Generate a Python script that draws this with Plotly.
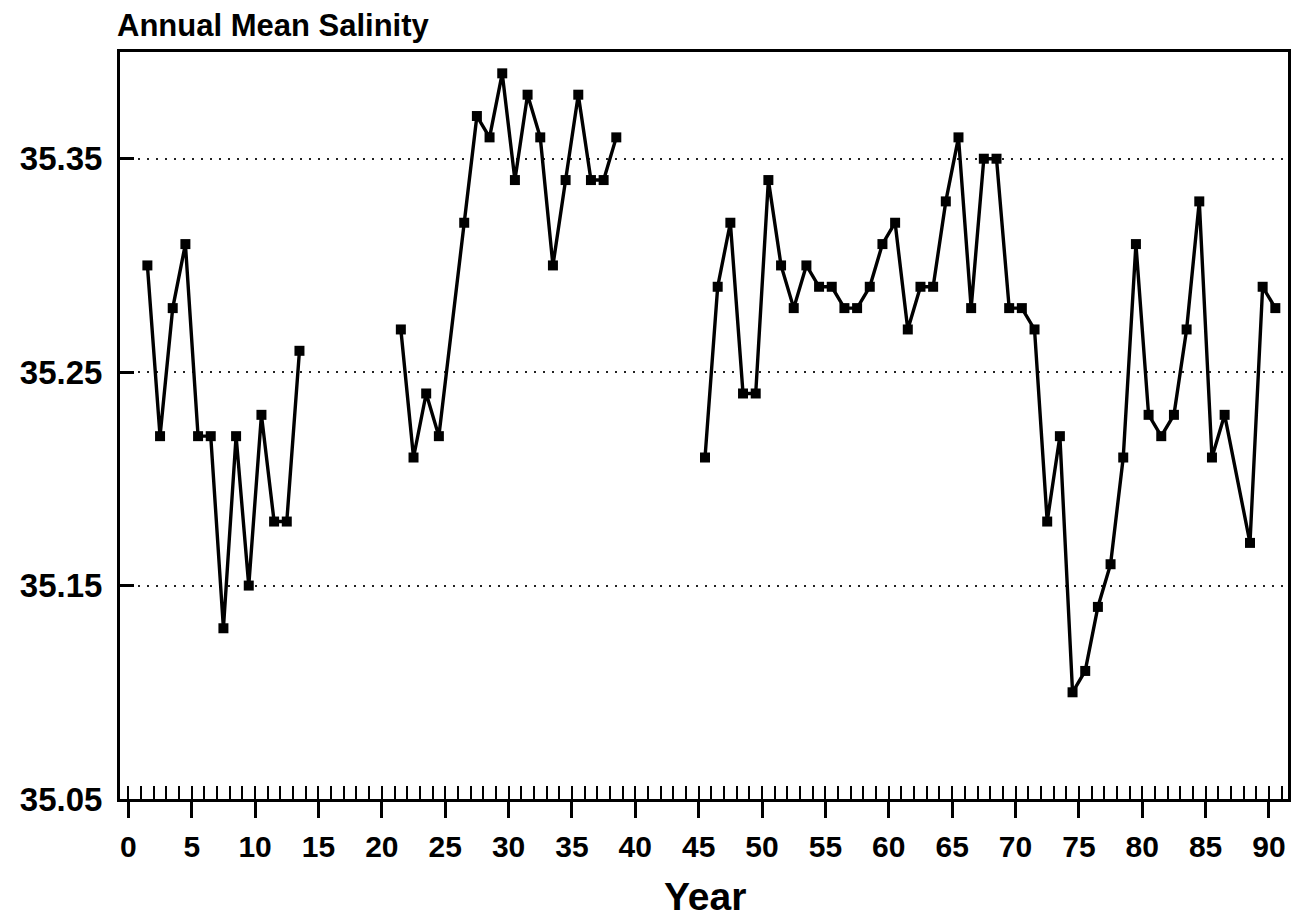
import plotly.graph_objects as go

# ---- data (x = mid-year position) ----
years_a = [1.5, 2.5, 3.5, 4.5, 5.5, 6.5, 7.5, 8.5, 9.5, 10.5, 11.5, 12.5, 13.5]
sal_a = [35.30, 35.22, 35.28, 35.31, 35.22, 35.22, 35.13, 35.22, 35.15, 35.23, 35.18, 35.18, 35.26]

years_b = [21.5, 22.5, 23.5, 24.5, 26.5, 27.5, 28.5, 29.5, 30.5, 31.5, 32.5, 33.5,
           34.5, 35.5, 36.5, 37.5, 38.5]
sal_b = [35.27, 35.21, 35.24, 35.22, 35.32, 35.37, 35.36, 35.39, 35.34, 35.38, 35.36, 35.30,
         35.34, 35.38, 35.34, 35.34, 35.36]

years_c = [45.5, 46.5, 47.5, 48.5, 49.5, 50.5, 51.5, 52.5, 53.5, 54.5, 55.5, 56.5, 57.5,
           58.5, 59.5, 60.5, 61.5, 62.5, 63.5, 64.5, 65.5, 66.5, 67.5, 68.5, 69.5, 70.5,
           71.5, 72.5, 73.5, 74.5, 75.5, 76.5, 77.5, 78.5, 79.5, 80.5, 81.5, 82.5, 83.5,
           84.5, 85.5, 86.5, 88.5, 89.5, 90.5]
sal_c = [35.21, 35.29, 35.32, 35.24, 35.24, 35.34, 35.30, 35.28, 35.30, 35.29, 35.29, 35.28,
         35.28, 35.29, 35.31, 35.32, 35.27, 35.29, 35.29, 35.33, 35.36, 35.28, 35.35, 35.35,
         35.28, 35.28, 35.27, 35.18, 35.22, 35.10, 35.11, 35.14, 35.16, 35.21, 35.31, 35.23,
         35.22, 35.23, 35.27, 35.33, 35.21, 35.23, 35.17, 35.29, 35.28]

y_ticks = [35.05, 35.15, 35.25, 35.35]
y_tick_text = ["35.05", "35.15", "35.25", "35.35"]

title_text = "Annual Mean Salinity"
x_title = "Year"

# combine segments with gaps so the line breaks between them
xs = years_a + [None] + years_b + [None] + years_c
ys = sal_a + [None] + sal_b + [None] + sal_c

FONT = "Liberation Sans"

fig = go.Figure()
fig.add_trace(go.Scatter(
    x=xs, y=ys, mode="lines+markers", connectgaps=False,
    line=dict(color="black", width=3.4),
    marker=dict(symbol="square", size=10, color="black"),
    showlegend=False, hoverinfo="x+y",
))
# dummy trace so the overlaid minor-tick axis is drawn
fig.add_trace(go.Scatter(x=[None], y=[None], xaxis="x2", yaxis="y",
                         showlegend=False, hoverinfo="skip"))

xrange = [-0.66, 91.5]

fig.update_layout(
    width=1303, height=918,
    margin=dict(l=110, r=23, t=44, b=127),
    paper_bgcolor="white", plot_bgcolor="white",
    font=dict(family=FONT, color="black"),
    xaxis=dict(
        range=xrange, tick0=0, dtick=5,
        ticks="outside", ticklen=16, tickwidth=2.5, tickcolor="black",
        showline=True, linewidth=3, linecolor="black", mirror=True,
        showgrid=False, zeroline=False,
        tickfont=dict(family=FONT, size=30, color="black", weight="bold"),
        ticklabelstandoff=3,
    ),
    xaxis2=dict(
        range=xrange, overlaying="x", anchor="y", side="bottom",
        tick0=0, dtick=1, ticks="inside", ticklen=13, tickwidth=2, tickcolor="black",
        showticklabels=False, showline=False, showgrid=False, zeroline=False,
    ),
    yaxis=dict(
        range=[35.05, 35.40],
        tickvals=y_ticks, ticktext=y_tick_text,
        ticks="inside", ticklen=14, tickwidth=2.5, tickcolor="black",
        showline=True, linewidth=3, linecolor="black", mirror=True,
        showgrid=True, gridcolor="#222222", gridwidth=1.5, griddash="2px,7px",
        zeroline=False,
        tickfont=dict(family=FONT, size=33, color="black", weight="bold"),
        ticklabelstandoff=8,
    ),
    annotations=[
        dict(text=title_text, xref="paper", yref="paper", x=0, y=1.036,
             xanchor="left", yanchor="middle", showarrow=False, xshift=-5,
             font=dict(family=FONT, size=31, color="black", weight="bold")),
        dict(text=x_title, xref="paper", yref="paper", x=0.501, y=-0.131,
             xanchor="center", yanchor="middle", showarrow=False,
             font=dict(family=FONT, size=39, color="black", weight="bold")),
    ],
)

fig.write_html("out.html")
